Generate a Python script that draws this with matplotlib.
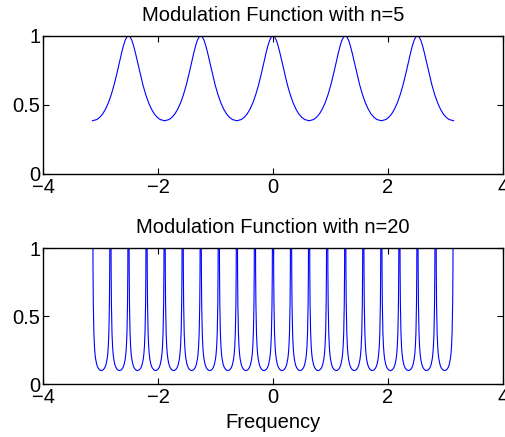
import numpy as np
import matplotlib
matplotlib.use("Agg")
import matplotlib.pyplot as plt

plt.rcParams["font.family"] = ["Liberation Sans", "DejaVu Sans"]

# n=5 : one half-lobe, offset from a peak -> value
peaks_n5 = [-2.513, -1.257, 0.0, 1.257, 2.513]
off_n5 = [0.0, 0.03, 0.06, 0.09, 0.12, 0.15, 0.2, 0.25, 0.3, 0.35, 0.4, 0.45, 0.5, 0.55, 0.628]
val_n5 = [1.0, 0.991, 0.966, 0.926, 0.877, 0.823, 0.731, 0.646, 0.574, 0.515, 0.469, 0.434, 0.41, 0.394, 0.385]

# n=20 : one half-trough, offset from a minimum -> value (clipped at 1 on the plot)
mins_n20 = [-2.985, -2.670, -2.356, -2.042, -1.728, -1.414, -1.100, -0.785, -0.471, -0.157,
            0.157, 0.471, 0.785, 1.100, 1.414, 1.728, 2.042, 2.356, 2.670, 2.985]
off_n20 = [0.0, 0.02, 0.04, 0.06, 0.08, 0.10, 0.11, 0.12, 0.13, 0.14, 0.145, 0.15, 0.157]
val_n20 = [0.1, 0.102, 0.109, 0.121, 0.143, 0.185, 0.22, 0.276, 0.374, 0.59, 0.83, 1.41, 3.0]

title_n5 = "Modulation Function with n=5"
title_n20 = "Modulation Function with n=20"


def build(centers, off, val):
    off = np.array(off)
    val = np.array(val)
    xs, ys = [], []
    for c in centers:
        xs.append(np.concatenate([c - off[::-1], c + off[1:]]))
        ys.append(np.concatenate([val[::-1], val[1:]]))
    return np.concatenate(xs), np.concatenate(ys)


x5, y5 = build(peaks_n5, off_n5, val_n5)
x20, y20 = build(mins_n20, off_n20, val_n20)

fig = plt.figure(figsize=(5.06, 4.37), dpi=100)
ax1 = fig.add_axes([0.085, 0.602, 0.909, 0.316])
ax2 = fig.add_axes([0.085, 0.121, 0.909, 0.311])

ax1.plot(x5, y5, color=(0, 0, 1), lw=0.8)
ax2.plot(x20, y20, color=(0, 0, 1), lw=0.8)

fs = 14.5
for ax, t in [(ax1, title_n5), (ax2, title_n20)]:
    ax.set_xlim(-4, 4)
    ax.set_ylim(0, 1)
    ax.set_xticks([-4, -2, 0, 2, 4])
    ax.set_yticks([0, 0.5, 1])
    ax.set_yticklabels(["0", "0.5", "1"])
    ax.tick_params(direction="in", length=4, width=0.8, top=True, right=True,
                   labelsize=fs, pad=2)
    ax.tick_params(axis="x", pad=3)
    for s in ax.spines.values():
        s.set_linewidth(1.0)
    ax.set_title(t, fontsize=fs, pad=11)

ax2.set_xlabel("Frequency", fontsize=fs, labelpad=4)

fig.savefig("out.png", dpi=100)
